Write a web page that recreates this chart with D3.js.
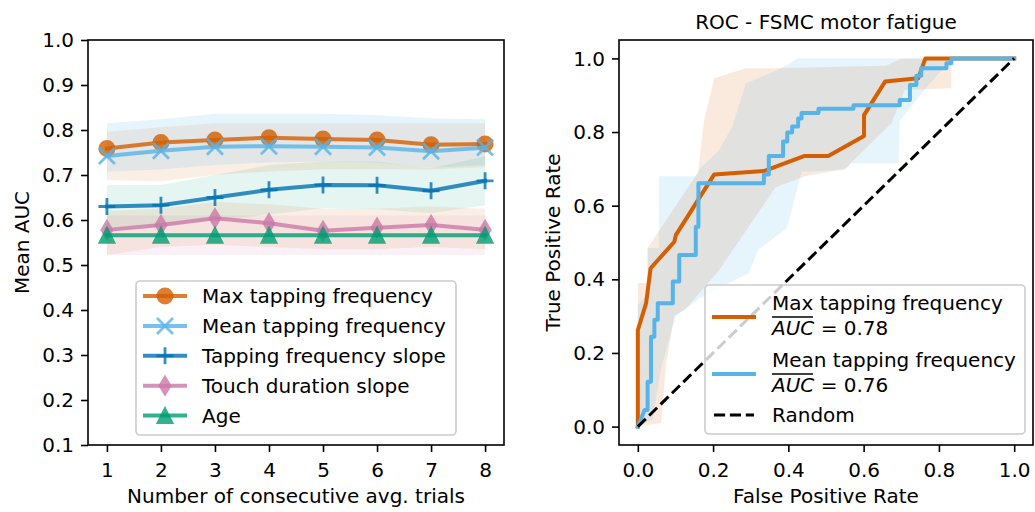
<!DOCTYPE html>
<html>
<head>
<meta charset="utf-8">
<script src="https://cdn.jsdelivr.net/npm/d3@7"></script>
<style>
  body { margin: 0; background: #fff; }
  svg text { font-family: "DejaVu Sans", sans-serif; font-size: 20px; fill: #000; }
</style>
</head>
<body>
<svg id="chart" width="1035" height="512"></svg>
<script>
// ---- left panel data: mean AUC vs number of averaged trials ----
const trials = [1, 2, 3, 4, 5, 6, 7, 8];
const featureNames = ['Max tapping frequency', 'Mean tapping frequency', 'Tapping frequency slope', 'Touch duration slope', 'Age'];

const maxTap   = [0.759, 0.772, 0.778, 0.783, 0.780, 0.778, 0.767, 0.769];
const maxTapLo = [0.689, 0.686, 0.700, 0.708, 0.713, 0.713, 0.712, 0.718];
const maxTapHi = [0.796, 0.806, 0.815, 0.815, 0.815, 0.815, 0.815, 0.815];

const meanTap   = [0.742, 0.754, 0.763, 0.764, 0.763, 0.761, 0.753, 0.761];
const meanTapLo = [0.707, 0.712, 0.722, 0.728, 0.730, 0.728, 0.716, 0.722];
const meanTapHi = [0.815, 0.824, 0.836, 0.836, 0.836, 0.833, 0.826, 0.824];

const tapSlope   = [0.630, 0.633, 0.650, 0.667, 0.678, 0.677, 0.665, 0.687];
const tapSlopeLo = [0.582, 0.588, 0.600, 0.612, 0.626, 0.624, 0.615, 0.633];
const tapSlopeHi = [0.678, 0.678, 0.700, 0.722, 0.730, 0.730, 0.715, 0.741];

const touchSlope   = [0.578, 0.589, 0.604, 0.593, 0.576, 0.583, 0.589, 0.578];
const touchSlopeLo = [0.522, 0.540, 0.545, 0.540, 0.535, 0.535, 0.540, 0.535];
const touchSlopeHi = [0.620, 0.625, 0.640, 0.635, 0.625, 0.625, 0.630, 0.625];

const age   = [0.566, 0.566, 0.566, 0.566, 0.566, 0.566, 0.566, 0.566];
const ageLo = [0.522, 0.522, 0.522, 0.522, 0.522, 0.522, 0.522, 0.522];
const ageHi = [0.610, 0.610, 0.610, 0.610, 0.610, 0.610, 0.610, 0.610];

const aucTicks = [0.1, 0.2, 0.3, 0.4, 0.5, 0.6, 0.7, 0.8, 0.9, 1.0];

// ---- right panel data: mean ROC curves ----
const rocTicks = [0, 0.2, 0.4, 0.6, 0.8, 1.0];

const maxFpr = [0, 0, 0.022, 0.034, 0.097, 0.101, 0.203, 0.335, 0.443, 0.506, 0.601, 0.601, 0.657, 0.745, 0.753, 0.764, 1.0];
const maxTpr = [0, 0.262, 0.335, 0.43, 0.502, 0.52, 0.685, 0.694, 0.735, 0.735, 0.789, 0.846, 0.937, 0.946, 0.968, 1.0, 1.0];

const meanFpr = [0, 0.018, 0.026, 0.026, 0.035, 0.035, 0.044, 0.044, 0.053, 0.053, 0.093, 0.093, 0.110, 0.110, 0.154, 0.154,
  0.161, 0.161, 0.335, 0.335, 0.348, 0.348, 0.386, 0.386, 0.397, 0.397, 0.41, 0.41, 0.426, 0.426, 0.435, 0.435,
  0.48, 0.48, 0.573, 0.573, 0.696, 0.696, 0.723, 0.723, 0.74, 0.74, 0.753, 0.753, 0.82, 0.82, 0.833, 0.833, 1.0];
const meanTpr = [0, 0.045, 0.045, 0.122, 0.122, 0.244, 0.244, 0.29, 0.29, 0.335, 0.335, 0.394, 0.394, 0.466, 0.466, 0.543,
  0.543, 0.661, 0.661, 0.685, 0.685, 0.735, 0.735, 0.774, 0.774, 0.799, 0.799, 0.815, 0.815, 0.837, 0.837, 0.852,
  0.852, 0.863, 0.863, 0.873, 0.873, 0.887, 0.887, 0.928, 0.928, 0.953, 0.953, 0.973, 0.973, 0.987, 0.987, 1.0, 1.0];

const maxBandHiFpr = [0, 0.026, 0.026, 0.16, 0.176, 0.203, 0.287, 0.36, 0.66, 0.70, 1.0];
const maxBandHiTpr = [0.39, 0.39, 0.485, 0.69, 0.833, 0.946, 0.973, 0.973, 0.98, 1.0, 1.0];
const maxBandLoFpr = [0, 0.062, 0.075, 0.097, 0.128, 0.216, 0.366, 0.445, 0.55, 0.674, 0.709, 0.833, 0.833, 1.0];
const maxBandLoTpr = [0, 0.01, 0.17, 0.30, 0.32, 0.425, 0.65, 0.68, 0.70, 0.824, 0.914, 0.919, 1.0, 1.0];

const meanBandHiFpr = [0, 0.026, 0.026, 0.056, 0.056, 0.154, 0.165, 0.216, 0.251, 0.287, 0.361, 0.397, 0.423, 1.0];
const meanBandHiTpr = [0.33, 0.36, 0.485, 0.485, 0.68, 0.68, 0.70, 0.751, 0.815, 0.932, 0.964, 0.982, 1.0, 1.0];
const meanBandLoFpr = [0, 0.04, 0.06, 0.10, 0.163, 0.242, 0.295, 0.32, 0.397, 0.427, 0.436, 0.55, 0.568, 0.692, 0.696, 0.75, 0.833, 1.0];
const meanBandLoTpr = [0, 0.02, 0.15, 0.30, 0.348, 0.39, 0.417, 0.48, 0.54, 0.66, 0.692, 0.697, 0.715, 0.715, 0.83, 0.9, 1.0, 1.0];

const rocNames = ['Max tapping frequency', 'Mean tapping frequency', 'Random'];
const rocAucs = ['0.78', '0.76'];

// styles
const lineColors = ['#d55e00', '#56b4e9', '#0072b2', '#cc79a7', '#009e73'];
const bandColors = ['#d55e00', '#56b4e9', '#009e73', '#d55e00', '#cc79a7'];
const bandAlpha = [0.1, 0.15, 0.1, 0.1, 0.1];
const markers = ['circle', 'x', 'plus', 'thin_diamond', 'triangle'];
const markerSizes = [15, 16, 17, 13, 15];

const series = [
  { values: maxTap, lo: maxTapLo, hi: maxTapHi },
  { values: meanTap, lo: meanTapLo, hi: meanTapHi },
  { values: tapSlope, lo: tapSlopeLo, hi: tapSlopeHi },
  { values: touchSlope, lo: touchSlopeLo, hi: touchSlopeHi },
  { values: age, lo: ageLo, hi: ageHi },
].map((s, i) => ({ ...s, name: featureNames[i], color: lineColors[i], band: bandColors[i],
  bandAlpha: bandAlpha[i], marker: markers[i], size: markerSizes[i] }));

function markerPath(kind, s) {
  const h = s / 2;
  switch (kind) {
    case 'circle': return `M${-h},0A${h},${h} 0 1,0 ${h},0A${h},${h} 0 1,0 ${-h},0Z`;
    case 'x': return `M${-h},${-h}L${h},${h}M${-h},${h}L${h},${-h}`;
    case 'plus': return `M${-h},0L${h},0M0,${-h}L0,${h}`;
    case 'thin_diamond': {
      const a = 0.707 * s, w = 0.6 * a;
      return `M0,${-a}L${w},0L0,${a}L${-w},0Z`;
    }
    case 'triangle': return `M0,${-h}L${h},${h}L${-h},${h}Z`;
  }
}
const filled = k => k !== 'x' && k !== 'plus';

function drawMarker(g, s, cx, cy) {
  g.append('path')
    .attr('transform', `translate(${cx},${cy})`)
    .attr('d', markerPath(s.marker, s.size))
    .attr('fill', filled(s.marker) ? s.color : 'none')
    .attr('stroke', s.color)
    .attr('stroke-width', filled(s.marker) ? 2 : 2.8)
    .attr('stroke-linejoin', 'miter')
    .attr('opacity', 0.8);
}

function styleAxis(g) {
  g.select('.domain').remove();
  g.selectAll('.tick line').attr('stroke', '#000').attr('stroke-width', 1.6);
  g.selectAll('.tick text').attr('fill', '#000').style('font-size', '20px');
}

const svg = d3.select('#chart');

// ================= left panel =================
const L = { left: 88, right: 504, top: 40, bottom: 445 };
const x = d3.scaleLinear().domain([0.65, 8.35]).range([L.left, L.right]);
const y = d3.scaleLinear().domain([0.1, 1.0]).range([L.bottom, L.top]);

const gl = svg.append('g');

series.forEach(s => {
  gl.append('path')
    .datum(trials.map((t, i) => [t, s.lo[i], s.hi[i]]))
    .attr('d', d3.area().x(d => x(d[0])).y0(d => y(d[1])).y1(d => y(d[2])))
    .attr('fill', s.band)
    .attr('fill-opacity', s.bandAlpha);
});

series.forEach(s => {
  gl.append('path')
    .datum(trials.map((t, i) => [t, s.values[i]]))
    .attr('d', d3.line().x(d => x(d[0])).y(d => y(d[1])))
    .attr('fill', 'none')
    .attr('stroke', s.color)
    .attr('stroke-width', 4)
    .attr('stroke-linecap', 'square')
    .attr('stroke-linejoin', 'round')
    .attr('opacity', 0.8);
  trials.forEach((t, i) => drawMarker(gl, s, x(t), y(s.values[i])));
});

gl.append('g')
  .attr('transform', `translate(0,${L.bottom})`)
  .call(d3.axisBottom(x).tickValues(trials).tickSize(7).tickPadding(7).tickFormat(d3.format('d')))
  .call(styleAxis)
  .call(g => g.selectAll('.tick text').attr('y', 32).attr('dy', 0));

gl.append('g')
  .attr('transform', `translate(${L.left},0)`)
  .call(d3.axisLeft(y).tickValues(aucTicks).tickSize(7).tickPadding(7).tickFormat(d3.format('.1f')))
  .call(styleAxis)
  .call(g => g.selectAll('.tick text').attr('dy', '0.33em'));

gl.append('rect')
  .attr('x', L.left).attr('y', L.top)
  .attr('width', L.right - L.left).attr('height', L.bottom - L.top)
  .attr('fill', 'none').attr('stroke', '#000').attr('stroke-width', 1.6);

gl.append('text')
  .attr('x', (L.left + L.right) / 2).attr('y', 503)
  .attr('text-anchor', 'middle')
  .text('Number of consecutive avg. trials');

gl.append('text')
  .attr('transform', `translate(29,${(L.top + L.bottom) / 2}) rotate(-90)`)
  .attr('text-anchor', 'middle')
  .text('Mean AUC');

// legend (lower center)
const lg = gl.append('g');
lg.append('rect')
  .attr('x', 136).attr('y', 281).attr('width', 320).attr('height', 154).attr('rx', 4)
  .attr('fill', '#fff').attr('fill-opacity', 0.8)
  .attr('stroke', '#ccc').attr('stroke-width', 1.6);
series.forEach((s, i) => {
  const cy = 296 + i * 29.9;
  lg.append('line')
    .attr('x1', 145).attr('x2', 185).attr('y1', cy).attr('y2', cy)
    .attr('stroke', s.color).attr('stroke-width', 4)
    .attr('stroke-linecap', 'square').attr('opacity', 0.8);
  drawMarker(lg, s, 165, cy);
  lg.append('text').attr('x', 202).attr('y', cy + 7).text(s.name);
});

// ================= right panel =================
const R = { left: 619, right: 1033, top: 40, bottom: 445 };
const fx = d3.scaleLinear().domain([-0.05, 1.05]).range([R.left, R.right]);
const fy = d3.scaleLinear().domain([-0.05, 1.05]).range([R.bottom, R.top]);

const gr = svg.append('g');
const pts = (xs, ys) => xs.map((v, i) => [v, ys[i]]);
const rocLine = d3.line().x(d => fx(d[0])).y(d => fy(d[1]));

function band(hiF, hiT, loF, loT, color, alpha) {
  const poly = pts(hiF, hiT).concat(pts(loF, loT).reverse());
  gr.append('path')
    .attr('d', rocLine(poly) + 'Z')
    .attr('fill', color).attr('fill-opacity', alpha);
}
band(maxBandHiFpr, maxBandHiTpr, maxBandLoFpr, maxBandLoTpr, lineColors[0], 0.13);
band(meanBandHiFpr, meanBandHiTpr, meanBandLoFpr, meanBandLoTpr, lineColors[1], 0.15);

gr.append('path')
  .attr('d', rocLine(pts(maxFpr, maxTpr)))
  .attr('fill', 'none').attr('stroke', lineColors[0]).attr('stroke-width', 4)
  .attr('stroke-linejoin', 'round').attr('stroke-linecap', 'square');
gr.append('path')
  .attr('d', rocLine(pts(meanFpr, meanTpr)))
  .attr('fill', 'none').attr('stroke', lineColors[1]).attr('stroke-width', 4)
  .attr('stroke-linejoin', 'round').attr('stroke-linecap', 'square');
gr.append('path')
  .attr('d', rocLine([[0, 0], [1, 1]]))
  .attr('fill', 'none').attr('stroke', '#000').attr('stroke-width', 3)
  .attr('stroke-dasharray', '11.1,4.8');

gr.append('g')
  .attr('transform', `translate(0,${R.bottom})`)
  .call(d3.axisBottom(fx).tickValues(rocTicks).tickSize(7).tickPadding(7).tickFormat(d3.format('.1f')))
  .call(styleAxis)
  .call(g => g.selectAll('.tick text').attr('y', 32).attr('dy', 0));

gr.append('g')
  .attr('transform', `translate(${R.left},0)`)
  .call(d3.axisLeft(fy).tickValues(rocTicks).tickSize(7).tickPadding(7).tickFormat(d3.format('.1f')))
  .call(styleAxis)
  .call(g => g.selectAll('.tick text').attr('dy', '0.33em'));

gr.append('rect')
  .attr('x', R.left).attr('y', R.top)
  .attr('width', R.right - R.left).attr('height', R.bottom - R.top)
  .attr('fill', 'none').attr('stroke', '#000').attr('stroke-width', 1.6);

gr.append('text')
  .attr('x', (R.left + R.right) / 2).attr('y', 28.5)
  .attr('text-anchor', 'middle')
  .text('ROC - FSMC motor fatigue');

gr.append('text')
  .attr('x', (R.left + R.right) / 2).attr('y', 503)
  .attr('text-anchor', 'middle')
  .text('False Positive Rate');

gr.append('text')
  .attr('transform', `translate(560,${(R.top + R.bottom) / 2}) rotate(-90)`)
  .attr('text-anchor', 'middle')
  .text('True Positive Rate');

// legend (lower right)
const rg = gr.append('g');
rg.append('rect')
  .attr('x', 705).attr('y', 285).attr('width', 320).attr('height', 149).attr('rx', 4)
  .attr('fill', '#fff').attr('fill-opacity', 0.8)
  .attr('stroke', '#ccc').attr('stroke-width', 1.6);

const rocEntryY = [317, 374];
rocAucs.forEach((auc, i) => {
  const cy = rocEntryY[i];
  rg.append('line')
    .attr('x1', 714).attr('x2', 754).attr('y1', cy).attr('y2', cy)
    .attr('stroke', lineColors[i]).attr('stroke-width', 4).attr('stroke-linecap', 'square');
  rg.append('text').attr('x', 772).attr('y', cy - 7).text(rocNames[i]);
  const t = rg.append('text').attr('x', 772).attr('y', cy + 18);
  t.append('tspan').style('font-style', 'italic').text('AUC');
  t.append('tspan').text(' = ' + auc);
  rg.append('line')
    .attr('x1', 772).attr('x2', 813).attr('y1', cy).attr('y2', cy)
    .attr('stroke', '#000').attr('stroke-width', 1.6);
});
rg.append('line')
  .attr('x1', 714).attr('x2', 754).attr('y1', 415).attr('y2', 415)
  .attr('stroke', '#000').attr('stroke-width', 3).attr('stroke-dasharray', '11.1,4.8');
rg.append('text').attr('x', 772).attr('y', 422).text(rocNames[2]);
</script>
</body>
</html>
